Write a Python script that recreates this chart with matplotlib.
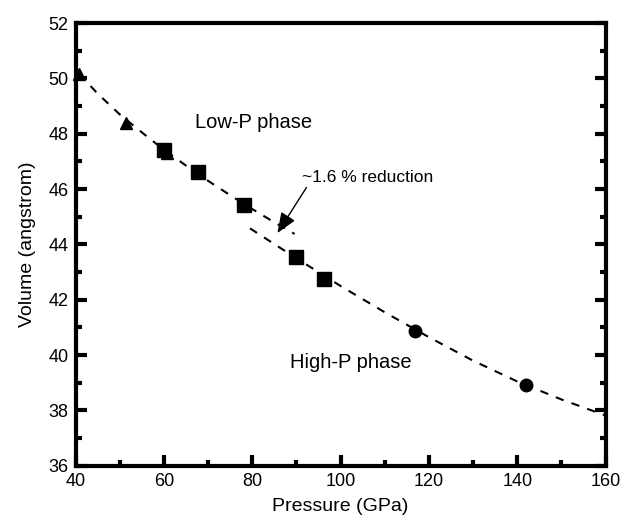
import numpy as np
import matplotlib
matplotlib.use('Agg')
import matplotlib.pyplot as plt
from matplotlib.ticker import MultipleLocator

plt.rcParams['font.family'] = ['Liberation Sans', 'DejaVu Sans']

# data points
tri_p = [40.8, 51.4, 60.6]
tri_v = [50.16, 48.40, 47.30]
sq_p = [60.0, 67.7, 78.2, 90.0, 96.3]
sq_v = [47.42, 46.60, 45.43, 43.53, 42.76]
circ_p = [116.8, 141.9]
circ_v = [40.88, 38.92]

# fitted EOS curves
low_fit_p = [40.8, 45, 50, 55, 60, 65, 70, 75, 80, 85, 89.6]
low_fit_v = [50.16, 49.45, 48.70, 48.05, 47.42, 46.85, 46.30, 45.78, 45.28, 44.80, 44.38]
high_fit_p = [79.5, 90, 100, 110, 120, 130, 140, 150, 160]
high_fit_v = [44.58, 43.50, 42.50, 41.55, 40.65, 39.80, 39.05, 38.40, 37.82]

fig = plt.figure(figsize=(6.22, 5.24), dpi=100)
ax = fig.add_axes([0.1215, 0.111, 0.852, 0.845])

ax.plot(low_fit_p, low_fit_v, ls=(0, (4, 4)), color='black', lw=1.5)
ax.plot(high_fit_p, high_fit_v, ls=(0, (4, 4)), color='black', lw=1.5)

ax.plot(tri_p, tri_v, '^', color='black', ms=9, clip_on=False)
ax.plot(sq_p, sq_v, 's', color='black', ms=9.5)
ax.plot(circ_p, circ_v, 'o', color='black', ms=9)

ax.text(93.5, 48.39, 'Low-P phase', fontsize=14.5, ha='right', va='center')
ax.text(88.6, 39.73, 'High-P phase', fontsize=14.5, ha='left', va='center')
ax.annotate('~1.6 % reduction', xy=(85.7, 44.41), xytext=(91.2, 46.43),
            fontsize=12.5, ha='left', va='center',
            arrowprops=dict(arrowstyle='-|>,head_length=1.0,head_width=0.4',
                            color='black', lw=1, shrinkA=0, shrinkB=0,
                            relpos=(0.05, 0.0)))

ax.set_xlim(40, 160)
ax.set_ylim(36, 52)
ax.xaxis.set_major_locator(MultipleLocator(20))
ax.xaxis.set_minor_locator(MultipleLocator(10))
ax.yaxis.set_major_locator(MultipleLocator(2))
ax.yaxis.set_minor_locator(MultipleLocator(1))
ax.tick_params(which='both', direction='in', right=True, top=False,
               labelsize=13, width=3)
ax.tick_params(which='major', length=8, pad=5)
ax.tick_params(which='minor', length=4)
for s in ax.spines.values():
    s.set_linewidth(3)

ax.set_xlabel('Pressure (GPa)', fontsize=14, labelpad=6)
ax.set_ylabel('Volume (angstrom)', fontsize=14, labelpad=9)

fig.savefig('out.png', dpi=100)
